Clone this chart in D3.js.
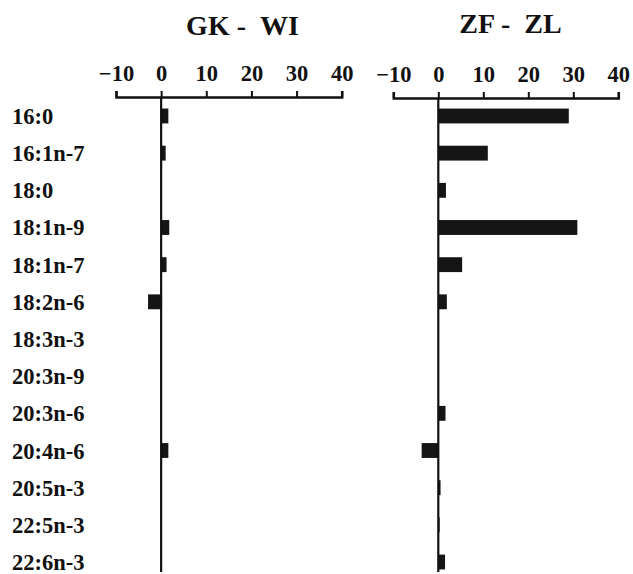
<!DOCTYPE html>
<html>
<head>
<meta charset="utf-8">
<script src="https://cdn.jsdelivr.net/npm/d3@7"></script>
<style>
  body { margin: 0; background: #fff; }
  svg text { font-family: "Liberation Serif", "Times New Roman", serif; font-weight: bold; fill: #111; }
</style>
</head>
<body>
<div id="chart"></div>
<script>
// Fatty acid differences, two comparisons side by side
const fattyAcids = ["16:0", "16:1n-7", "18:0", "18:1n-9", "18:1n-7", "18:2n-6", "18:3n-3",
                    "20:3n-9", "20:3n-6", "20:4n-6", "20:5n-3", "22:5n-3", "22:6n-3"];
const gkWi = [1.6, 1.0, 0, 1.8, 1.2, -2.9, 0, 0, 0, 1.6, 0, 0, 0];
const zfZl = [29.0, 11.0, 1.7, 30.9, 5.3, 1.9, 0, 0, 1.6, -3.7, 0.5, 0.3, 1.5];
const xTicks = [-10, 0, 10, 20, 30, 40];

const width = 633, height = 574;

const svg = d3.select("#chart")
  .append("svg")
  .attr("width", width)
  .attr("height", height);

// shared row scale
const y = d3.scaleBand()
  .domain(fattyAcids)
  .range([97.4, 580.6])
  .paddingInner(0.6)
  .paddingOuter(0.3);

// row labels
svg.selectAll(".row-label")
  .data(fattyAcids)
  .join("text")
  .attr("class", "row-label")
  .attr("x", 12)
  .attr("y", d => y(d) + y.bandwidth() / 2 + 8)
  .style("font-size", "22.5px")
  .text(d => d);

const panels = [
  { title: "GK -\u00a0\u00a0WI", values: gkWi, range: [116, 341.7], axisY: 97, titleX: 242.5, titleY: 35 },
  { title: "ZF -\u00a0\u00a0ZL", values: zfZl, range: [393.3, 618.3], axisY: 98, titleX: 510.5, titleY: 33 }
];

panels.forEach(p => {
  const x = d3.scaleLinear().domain([-10, 40]).range(p.range);
  const g = svg.append("g");

  // title
  g.append("text")
    .attr("x", p.titleX)
    .attr("y", p.titleY)
    .attr("text-anchor", "middle")
    .style("font-size", "28px")
    .text(p.title);

  // top axis
  const axis = g.append("g")
    .attr("transform", `translate(0,${p.axisY})`)
    .call(d3.axisTop(x).tickValues(xTicks).tickSize(6).tickPadding(10).tickFormat(d3.format("d")));
  axis.select(".domain").attr("stroke", "#111").attr("stroke-width", 2.5);
  axis.selectAll(".tick line").attr("stroke", "#111").attr("stroke-width", 2);
  axis.selectAll(".tick text")
    .style("font-size", "22.5px")
    .style("font-family", "Liberation Serif, serif")
    .style("font-weight", "bold")
    .attr("fill", "#111");

  // bars
  g.selectAll(".bar")
    .data(fattyAcids.map((c, i) => ({ c, v: p.values[i] })))
    .join("rect")
    .attr("class", "bar")
    .attr("x", d => x(Math.min(0, d.v)))
    .attr("y", d => y(d.c))
    .attr("width", d => Math.abs(x(d.v) - x(0)))
    .attr("height", y.bandwidth())
    .attr("fill", "#151515");

  // zero line
  g.append("line")
    .attr("x1", x(0)).attr("x2", x(0))
    .attr("y1", p.axisY).attr("y2", 572)
    .attr("stroke", "#111")
    .attr("stroke-width", 2.2);
});
</script>
</body>
</html>
